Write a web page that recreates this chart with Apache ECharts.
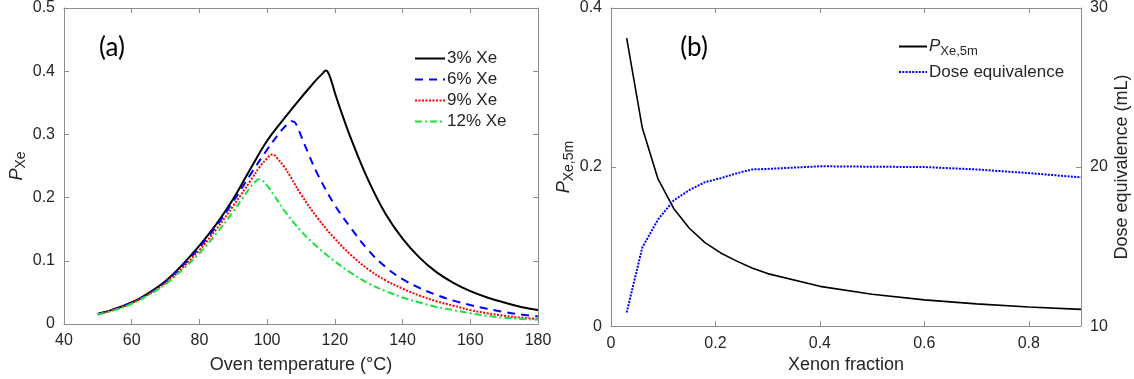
<!DOCTYPE html>
<html>
<head>
<meta charset="utf-8">
<script src="https://cdn.jsdelivr.net/npm/echarts@6/dist/echarts.min.js"></script>
<style>
  html, body { margin: 0; padding: 0; background: #fff; }
  #chart { width: 1134px; height: 379px; }
</style>
</head>
<body>
<div id="chart"></div>
<script>
  // (a) polarisation vs oven temperature
  const tempXe3 = [50, 55, 60, 65, 70, 75, 80, 85, 90, 95, 100, 105, 110, 113, 115, 116.5, 117.3, 118, 119, 120, 122, 125, 130, 135, 140, 145, 150, 155, 160, 165, 170, 175, 180]
  const pXe3 = [0.016, 0.024, 0.034, 0.049, 0.068, 0.094, 0.124, 0.158, 0.198, 0.245, 0.290, 0.325, 0.358, 0.377, 0.389, 0.397, 0.401, 0.398, 0.384, 0.366, 0.334, 0.290, 0.226, 0.174, 0.135, 0.105, 0.082, 0.065, 0.052, 0.042, 0.034, 0.027, 0.022]
  const tempXe6 = [50, 55, 60, 65, 70, 75, 80, 85, 90, 95, 100, 103, 105, 106.5, 107.3, 108.2, 109, 110, 112, 115, 120, 125, 130, 135, 140, 145, 150, 155, 160, 165, 170, 175, 180]
  const pXe6 = [0.016, 0.024, 0.034, 0.048, 0.067, 0.092, 0.121, 0.155, 0.194, 0.236, 0.276, 0.298, 0.311, 0.318, 0.321, 0.319, 0.311, 0.298, 0.272, 0.236, 0.188, 0.150, 0.116, 0.090, 0.071, 0.057, 0.046, 0.037, 0.030, 0.024, 0.019, 0.015, 0.012]
  const tempXe9 = [50, 55, 60, 65, 70, 75, 80, 85, 90, 95, 98, 100, 101.3, 102.2, 103, 105, 107, 110, 115, 120, 125, 130, 135, 140, 145, 150, 155, 160, 165, 170, 175, 180]
  const pXe9 = [0.015, 0.023, 0.033, 0.047, 0.065, 0.089, 0.117, 0.150, 0.187, 0.226, 0.250, 0.262, 0.268, 0.267, 0.262, 0.249, 0.232, 0.205, 0.167, 0.135, 0.108, 0.086, 0.069, 0.056, 0.045, 0.036, 0.029, 0.022, 0.017, 0.013, 0.010, 0.008]
  const tempXe12 = [50, 55, 60, 65, 70, 75, 80, 85, 90, 93, 95, 96.5, 97.6, 98.6, 100, 102, 105, 110, 115, 120, 125, 130, 135, 140, 145, 150, 155, 160, 165, 170, 175, 180]
  const pXe12 = [0.015, 0.022, 0.032, 0.046, 0.063, 0.086, 0.112, 0.143, 0.178, 0.201, 0.216, 0.225, 0.229, 0.227, 0.219, 0.204, 0.180, 0.147, 0.121, 0.099, 0.080, 0.064, 0.052, 0.042, 0.034, 0.027, 0.022, 0.017, 0.013, 0.010, 0.008, 0.007]

  // (b) vs xenon fraction
  const xenonFrac = [0.03, 0.06, 0.09, 0.12, 0.15, 0.18, 0.21, 0.24, 0.27, 0.3, 0.4, 0.5, 0.6, 0.7, 0.8, 0.9]
  const pXe5m = [0.362, 0.249, 0.185, 0.148, 0.123, 0.105, 0.092, 0.082, 0.073, 0.066, 0.050, 0.040, 0.033, 0.028, 0.024, 0.021]
  const doseEq = [10.85, 14.95, 16.7, 17.9, 18.55, 19.05, 19.3, 19.6, 19.85, 19.88, 20.05, 20.02, 20.0, 19.85, 19.62, 19.35]

  const axisColor = '#8c8c8c'
  const textColor = '#262626'
  const font = '"Liberation Sans", Arial, sans-serif'

  const zip = (xs, ys) => xs.map((x, i) => [x, ys[i]])

  // 带刻度的坐标轴（内刻度，MATLAB风格的边框）
  function boxAxis(opt, showLabel) {
    return Object.assign({
      type: 'value',
      axisLine: {show: true, onZero: false, lineStyle: {color: axisColor, width: 1}},
      axisTick: {show: true, inside: true, length: 5, lineStyle: {color: axisColor}},
      splitLine: {show: false},
      axisLabel: {show: showLabel, color: textColor, fontFamily: font, fontSize: 16, margin: 9},
      nameTextStyle: {color: textColor, fontFamily: font, fontSize: 18}
    }, opt)
  }

  const subRich = {
    i: {fontStyle: 'italic', fontSize: 18, fontFamily: font, color: textColor},
    s: {fontSize: 14, fontFamily: font, color: textColor, padding: [9, 0, 0, 0]}
  }
  const legendRich = {
    i: {fontStyle: 'italic', fontSize: 17, fontFamily: font, color: textColor},
    s: {fontSize: 13, fontFamily: font, color: textColor, padding: [9, 0, 0, 0]}
  }

  const chart = echarts.init(document.getElementById('chart'))
  chart.setOption({
    animation: false,
    backgroundColor: '#fff',
    grid: [
      {left: 64, top: 5, width: 474, height: 322},
      {left: 611, top: 6, width: 470, height: 328}
    ],
    xAxis: [
      boxAxis({gridIndex: 0, position: 'bottom', min: 40, max: 180, interval: 20,
        name: 'Oven temperature (°C)', nameLocation: 'middle', nameGap: 32}, true),
      boxAxis({gridIndex: 0, position: 'top', min: 40, max: 180, interval: 20}, false),
      boxAxis({gridIndex: 1, position: 'bottom', min: 0, max: 0.9, interval: 0.2,
        name: 'Xenon fraction', nameLocation: 'middle', nameGap: 27}, true),
      boxAxis({gridIndex: 1, position: 'top', min: 0, max: 0.9, interval: 0.2}, false)
    ],
    yAxis: [
      boxAxis({gridIndex: 0, position: 'left', min: 0, max: 0.5, interval: 0.1,
        name: '{i|P}{s|Xe}', nameLocation: 'middle', nameGap: 36, nameRotate: 90,
        nameTextStyle: {rich: subRich}}, true),
      boxAxis({gridIndex: 0, position: 'right', min: 0, max: 0.5, interval: 0.1}, false),
      boxAxis({gridIndex: 1, position: 'left', min: 0, max: 0.4, interval: 0.2,
        name: '{i|P}{s|Xe,5m}', nameLocation: 'middle', nameGap: 34, nameRotate: 90,
        nameTextStyle: {rich: subRich}}, true),
      boxAxis({gridIndex: 1, position: 'right', min: 10, max: 30, interval: 10,
        name: 'Dose equivalence (mL)', nameLocation: 'middle', nameGap: 32, nameRotate: 90}, true)
    ],
    legend: [
      {
        data: ['3% Xe', '6% Xe', '9% Xe', '12% Xe'],
        orient: 'vertical', left: 409, top: 45,
        itemWidth: 30, itemHeight: 14, itemGap: 4,
        itemStyle: {opacity: 0},
        textStyle: {color: textColor, fontFamily: font, fontSize: 17, lineHeight: 16, padding: [0, 0, 0, -3]}
      },
      {
        data: ['PXe5m', 'Dose equivalence'],
        orient: 'vertical', left: 893, top: 33,
        itemWidth: 28, itemHeight: 14, itemGap: 6,
        itemStyle: {opacity: 0},
        formatter: name => name === 'PXe5m' ? '{i|P}{s|Xe,5m}' : name,
        textStyle: {color: textColor, fontFamily: font, fontSize: 17, padding: [0, 0, 0, -3], rich: legendRich}
      }
    ],
    graphic: [
      {type: 'text', x: 112, y: 48, style: {text: '(a)', font: '26px Lato, "Open Sans", sans-serif', fill: '#000', align: 'center', verticalAlign: 'middle'}},
      {type: 'text', x: 694, y: 48, style: {text: '(b)', font: '26px Lato, "Open Sans", sans-serif', fill: '#000', align: 'center', verticalAlign: 'middle'}}
    ],
    series: [
      {name: '3% Xe', type: 'line', xAxisIndex: 0, yAxisIndex: 0, symbol: 'none', smooth: 0.4,
        data: zip(tempXe3, pXe3), lineStyle: {color: '#000', width: 2}, itemStyle: {color: '#000'}},
      {name: '6% Xe', type: 'line', xAxisIndex: 0, yAxisIndex: 0, symbol: 'none', smooth: 0.4,
        data: zip(tempXe6, pXe6), lineStyle: {color: '#0000ff', width: 2, type: [8, 6]}, itemStyle: {color: '#0000ff'}},
      {name: '9% Xe', type: 'line', xAxisIndex: 0, yAxisIndex: 0, symbol: 'none', smooth: 0.4,
        data: zip(tempXe9, pXe9), lineStyle: {color: '#ff0000', width: 2, type: [2, 1.5]}, itemStyle: {color: '#ff0000'}},
      {name: '12% Xe', type: 'line', xAxisIndex: 0, yAxisIndex: 0, symbol: 'none', smooth: 0.4,
        data: zip(tempXe12, pXe12), lineStyle: {color: '#1ee03c', width: 2, type: [7, 3, 2, 3]}, itemStyle: {color: '#1ee03c'}},
      {name: 'PXe5m', type: 'line', xAxisIndex: 2, yAxisIndex: 2, symbol: 'none',
        data: zip(xenonFrac, pXe5m), lineStyle: {color: '#000', width: 1.6}, itemStyle: {color: '#000'}},
      {name: 'Dose equivalence', type: 'line', xAxisIndex: 2, yAxisIndex: 3, symbol: 'none',
        data: zip(xenonFrac, doseEq), lineStyle: {color: '#0000ff', width: 2, type: [2, 1.3]}, itemStyle: {color: '#0000ff'}}
    ]
  })

  // 右图x轴不显示0.9
  chart.setOption({xAxis: [{}, {}, {axisLabel: {showMaxLabel: false}}, {}]})
</script>
</body>
</html>
